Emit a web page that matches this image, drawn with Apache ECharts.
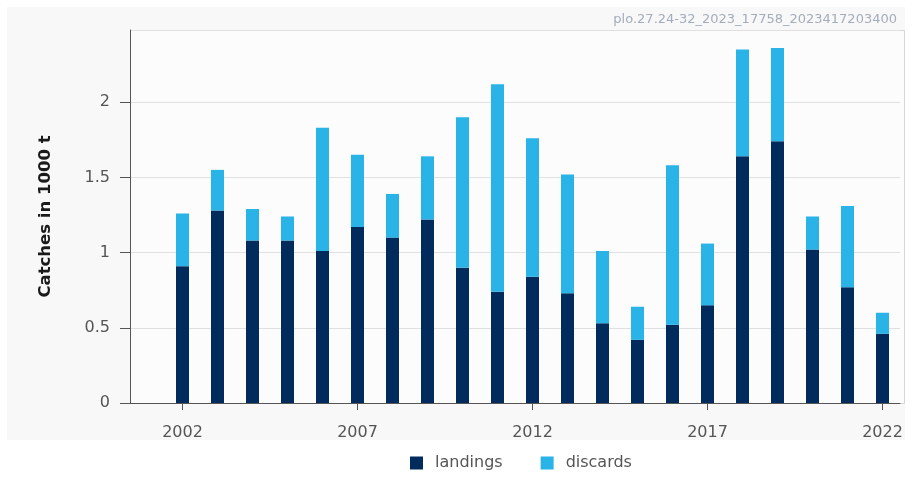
<!DOCTYPE html>
<html><head><meta charset="utf-8">
<script src="https://cdn.jsdelivr.net/npm/echarts@6/dist/echarts.min.js"></script>
<style>html,body{margin:0;padding:0;background:#fff}#c{width:915px;height:480px}</style>
</head><body><div id="c"></div>
<script>
const years = ['2001','2002','2003','2004','2005','2006','2007','2008','2009','2010','2011','2012','2013','2014','2015','2016','2017','2018','2019','2020','2021','2022'];
const landings = [null,0.91,1.28,1.08,1.08,1.01,1.17,1.10,1.22,0.90,0.74,0.84,0.73,0.53,0.42,0.52,0.65,1.64,1.74,1.02,0.77,0.46];
const discards = [null,0.35,0.27,0.21,0.16,0.82,0.48,0.29,0.42,1.00,1.38,0.92,0.79,0.48,0.22,1.06,0.41,0.71,0.62,0.22,0.54,0.14];
const xLabelYears = ['2002','2007','2012','2017','2022'];
const chart = echarts.init(document.getElementById('c'));
const font = 'DejaVu Sans, sans-serif';
const showYear = (i)=>xLabelYears.indexOf(years[i])>=0;
chart.setOption({
  backgroundColor:'#ffffff',
  animation:false,
  graphic:[
    {type:'rect',left:7,top:7,shape:{width:898,height:433},style:{fill:'#f8f8f8'},z:-10},
    {type:'rect',left:130,top:30,shape:{width:774,height:373},style:{fill:'#fcfcfc',stroke:'#d6d6d6',lineWidth:1},z:-9},
    {type:'text',right:18,top:13,style:{text:'plo.27.24-32_2023_17758_2023417203400',fill:'#a3adbb',font:'13px '+font}}
  ],
  grid:{left:130,right:15,top:30,bottom:77},
  legend:{top:450,left:405,itemWidth:13,itemHeight:13,itemGap:38,icon:'rect',
    textStyle:{color:'#555',fontSize:16,fontFamily:font,padding:[0,0,0,7]},data:['landings','discards']},
  xAxis:{type:'category',data:years,boundaryGap:true,
    axisLine:{show:true,lineStyle:{color:'#555'}},
    axisTick:{show:true,alignWithLabel:true,interval:(i)=>showYear(i),length:7,lineStyle:{color:'#555'}},
    axisLabel:{interval:(i)=>showYear(i),color:'#555',fontSize:16,fontFamily:font,margin:22},
    splitLine:{show:false}},
  yAxis:{type:'value',min:0,max:2.48,interval:0.5,
    name:'Catches in 1000 t',nameLocation:'middle',nameGap:76,
    nameTextStyle:{fontWeight:'bold',fontSize:16.5,color:'#1a1a1a',fontFamily:font},
    axisLine:{show:true,lineStyle:{color:'#555'}},
    axisTick:{show:true,length:10,lineStyle:{color:'#555'}},
    axisLabel:{color:'#555',fontSize:16,fontFamily:font,margin:20,showMaxLabel:false,formatter:v=>String(v)},
    splitLine:{show:true,lineStyle:{color:'#e0e0e0'}}},
  series:[
    {name:'landings',type:'bar',stack:'c',barWidth:13,itemStyle:{color:'#002b5c'},data:landings},
    {name:'discards',type:'bar',stack:'c',barWidth:13,itemStyle:{color:'#29b3e7'},data:discards}
  ]
});
</script></body></html>
